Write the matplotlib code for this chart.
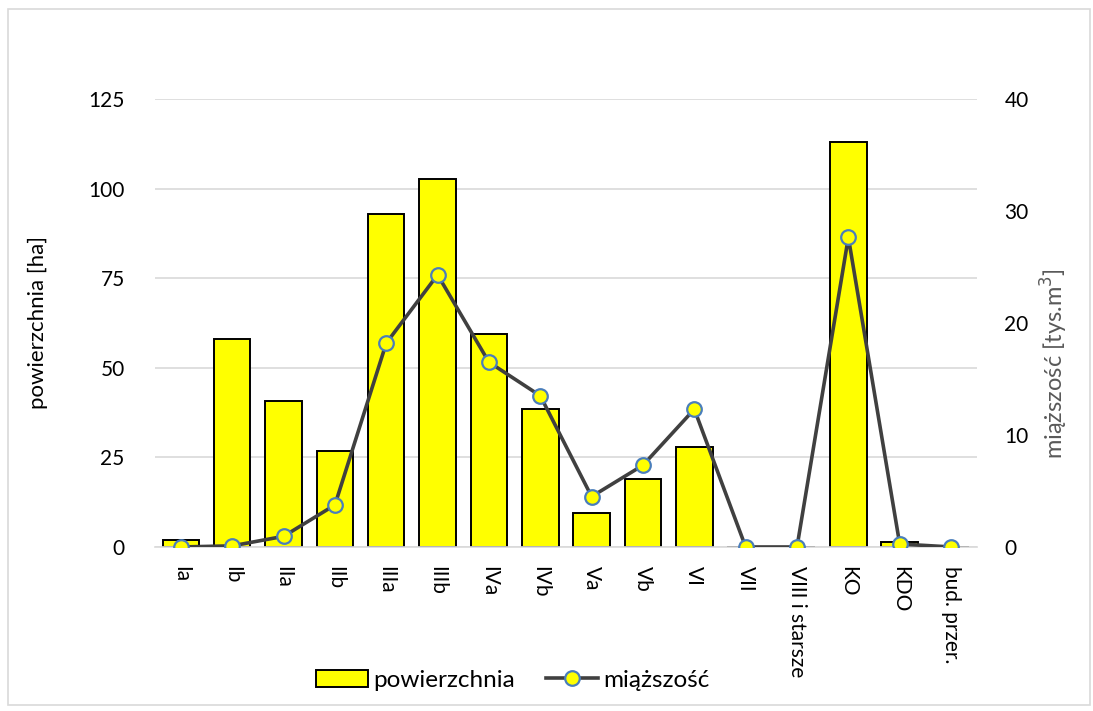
import numpy as np
import matplotlib.pyplot as plt
from matplotlib.patches import Rectangle

plt.rcParams['font.family'] = ['Lato', 'DejaVu Sans']

klasy = ['Ia', 'Ib', 'IIa', 'IIb', 'IIIa', 'IIIb', 'IVa', 'IVb', 'Va', 'Vb',
         'VI', 'VII', 'VIII i starsze', 'KO', 'KDO', 'bud. przer.']
powierzchnia = [2.0, 58.0, 40.7, 26.7, 92.9, 102.7, 59.4, 38.6, 9.5, 19.1,
                28.0, 0.0, 0.0, 113.0, 1.5, 0.0]
miazszosc = [0.0, 0.1, 0.95, 3.75, 18.2, 24.3, 16.5, 13.5, 4.5, 7.3,
             12.3, 0.0, 0.0, 27.65, 0.27, 0.0]

x = np.arange(len(klasy))

fig = plt.figure(figsize=(10.93, 7.11), dpi=100)
ax = fig.add_axes([0.142, 0.2307, 0.7516, 0.6301])
ax2 = ax.twinx()

bars = ax.bar(x, powierzchnia, width=0.71, color='#ffff00', edgecolor='black',
              linewidth=1.4, label='powierzchnia', zorder=2)
line, = ax2.plot(x, miazszosc, color='#404040', linewidth=2.6, marker='o',
                 markersize=10.5, markerfacecolor='#ffff00',
                 markeredgecolor='#4a7ebb', markeredgewidth=1.6,
                 label='miąższość', zorder=3)

ax.set_xlim(-0.5, len(klasy) - 0.5)
ax.set_ylim(0, 125)
ax.set_yticks([0, 25, 50, 75, 100, 125])
ax2.set_ylim(0, 40)
ax2.set_yticks([0, 10, 20, 30, 40])

ax.yaxis.grid(True, color='#d9d9d9', linewidth=1.2, zorder=0)
ax.set_axisbelow(True)

for a in (ax, ax2):
    for s in a.spines.values():
        s.set_visible(False)
    a.tick_params(length=0, labelsize=15, colors='black')
ax.spines['bottom'].set_visible(True)
ax.spines['bottom'].set_color('#d9d9d9')
ax.spines['bottom'].set_linewidth(1.2)

ax.tick_params(axis='y', pad=22)
ax2.tick_params(axis='y', pad=20)
ax.set_xticks(x)
ax.set_xticklabels(klasy, rotation=-90, va='top', ha='center')
ax.tick_params(axis='x', pad=14)

ax.set_ylabel('powierzchnia [ha]', fontsize=16, labelpad=29)
ax2.set_ylabel('miąższość [tys.m$^3$]', fontsize=17, color='#595959')
ax2.yaxis.set_label_coords(1.076, 0.41)

ax2.set_zorder(ax.get_zorder() + 1)
ax2.patch.set_visible(False)

fig.legend([bars, line], ['powierzchnia', 'miąższość'], loc='center',
           bbox_to_anchor=(0.469, 0.043), ncol=2, frameon=False, fontsize=17.5,
           handlelength=2.15, handleheight=0.68, columnspacing=1.3,
           handletextpad=0.2)

# outer chart frame
fig.patches.append(Rectangle((0.0075, 0.008), 0.99, 0.98, transform=fig.transFigure,
                             fill=False, edgecolor='#d9d9d9', linewidth=1.2))

fig.savefig('out.png', dpi=100)
